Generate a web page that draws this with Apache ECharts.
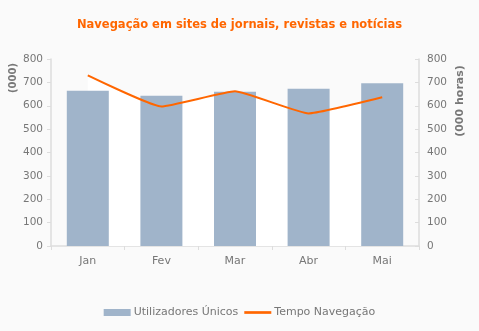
<!DOCTYPE html>
<html><head><meta charset="utf-8">
<script src="https://cdn.jsdelivr.net/npm/echarts@6/dist/echarts.min.js"></script>
<style>html,body{margin:0;padding:0;background:#fafafa}#c{width:479px;height:331px}</style>
</head><body><div id="c"></div>
<script>
const categories = ['Jan','Fev','Mar','Abr','Mai'];
const utilizadores = [664, 643, 660, 673, 696];
const tempo = [730, 597, 662, 567, 636];
const yTicks = [0,100,200,300,400,500,600,700,800];
const FONT = 'DejaVu Sans';
const chart = echarts.init(document.getElementById('c'));
chart.setOption({
  backgroundColor: '#fafafa',
  animation: false,
  title: {
    text: 'Navegação em sites de jornais, revistas e notícias',
    left: 'center', top: 14,
    textStyle: {color: '#ff6600', fontFamily: FONT, fontSize: 11.5, fontWeight: 'bold'}
  },
  legend: {
    bottom: 8, left: 'center', itemWidth: 27, itemHeight: 7, itemGap: 6,
    textStyle: {color: '#777', fontFamily: FONT, fontSize: 11, padding:[0,0,0,-2]},
    data: [{name: 'Utilizadores Únicos', icon: 'rect'}, {name: 'Tempo Navegação', icon: 'path://M0,0 L10,0 L10,1 L0,1 Z'}]
  },
  grid: {left: 51, right: 60, top: 59, bottom: 85},
  xAxis: {
    type: 'category', data: categories,
    axisLine: {lineStyle: {color: '#dddddd', width: 1.5}},
    axisTick: {show: true, length: 4, lineStyle: {color: '#dddddd'}},
    axisLabel: {color: '#777', fontFamily: FONT, fontSize: 11, margin: 10}
  },
  yAxis: [
    {type: 'value', min: yTicks[0], max: yTicks[yTicks.length-1], interval: 100,
     axisLine: {show: true, lineStyle: {color: '#dddddd', width: 1.5}},
     axisTick: {show: true, length: 4, lineStyle: {color: '#dddddd'}},
     splitLine: {show: false},
     axisLabel: {color: '#777', fontFamily: FONT, fontSize: 10.5, margin: 8}},
    {type: 'value', min: yTicks[0], max: yTicks[yTicks.length-1], interval: 100, position: 'right',
     axisLine: {show: true, lineStyle: {color: '#dddddd', width: 1.5}},
     axisTick: {show: true, inside: true, length: 4, lineStyle: {color: '#dddddd'}},
     splitLine: {show: false},
     axisLabel: {color: '#777', fontFamily: FONT, fontSize: 10.5, margin: 8}}
  ],
  graphic: [
    {type: 'text', x: 13, y: 78, rotation: Math.PI/2,
     style: {text: '(000)', fill: '#777', font: 'bold 10px "DejaVu Sans"', textAlign: 'center', textVerticalAlign: 'middle'}},
    {type: 'text', x: 460, y: 101, rotation: Math.PI/2,
     style: {text: '(000 horas)', fill: '#777', font: 'bold 11px "DejaVu Sans"', textAlign: 'center', textVerticalAlign: 'middle'}}
  ],
  series: [
    {name: 'area', type: 'line', data: tempo, yAxisIndex: 1, z: 1, silent: true,
     symbol: 'none', smooth: 0.12, lineStyle: {width: 0}, areaStyle: {color: '#ffffff', opacity: 1}},
    {name: 'Utilizadores Únicos', type: 'bar', data: utilizadores, barWidth: 42, z: 2,
     itemStyle: {color: '#a0b4ca'}},
    {name: 'Tempo Navegação', type: 'line', data: tempo, yAxisIndex: 1, z: 3,
     symbol: 'none', smooth: 0.12, lineStyle: {color: '#ff6600', width: 2}, itemStyle: {color: '#ff6600'}}
  ]
});
</script></body></html>
